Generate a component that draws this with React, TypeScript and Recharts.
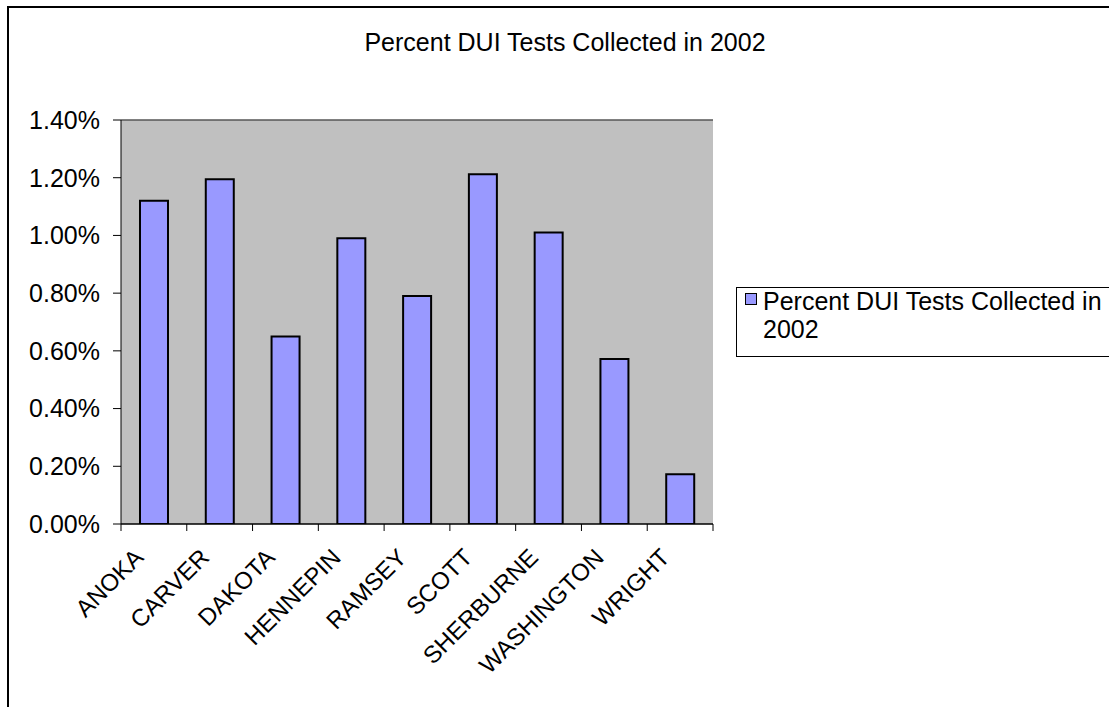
import React from 'react';
import { BarChart, Bar, XAxis, YAxis, CartesianGrid, ReferenceLine } from 'recharts';

const counties = ['ANOKA', 'CARVER', 'DAKOTA', 'HENNEPIN', 'RAMSEY', 'SCOTT', 'SHERBURNE', 'WASHINGTON', 'WRIGHT'];
const percentCollected = [0.0112, 0.01195, 0.0065, 0.0099, 0.0079, 0.01212, 0.0101, 0.00572, 0.00172];
const yTicks = [0, 0.002, 0.004, 0.006, 0.008, 0.01, 0.012, 0.014];
const chartTitle = 'Percent DUI Tests Collected in 2002';
const seriesName = 'Percent DUI Tests Collected in 2002';

const data = counties.map((county, i) => ({ county, value: percentCollected[i] }));

const FONT = '"Liberation Sans", Arial, sans-serif';
const W = 1109;
const H = 707;
const PLOT_LEFT = 121;
const PLOT_RIGHT = 713;
const PLOT_TOP = 120;
const PLOT_BOTTOM = 524;
const BAND = (PLOT_RIGHT - PLOT_LEFT) / counties.length;

const fmt = (v: number) => (v * 100).toFixed(2) + '%';

function XTick(props: any) {
  const { x, y, payload, index } = props;
  const left = x - BAND / 2;
  const tx = x - 9;
  const ty = y + 35;
  return (
    <g>
      <line x1={left} y1={y} x2={left} y2={y + 7} stroke="#000" strokeWidth={1} />
      {index === counties.length - 1 && (
        <line x1={x + BAND / 2} y1={y} x2={x + BAND / 2} y2={y + 7} stroke="#000" strokeWidth={1} />
      )}
      <text
        x={tx}
        y={ty}
        transform={`rotate(-45 ${tx} ${ty})`}
        textAnchor="end"
        fontSize={24}
        fontFamily={FONT}
        fill="#000"
      >
        {payload.value}
      </text>
    </g>
  );
}

export default function App() {
  return (
    <div style={{ position: 'relative', width: W, height: H, background: '#fff', overflow: 'hidden' }}>
      <style>{'body{margin:0;overflow:hidden}'}</style>
      <div
        style={{
          position: 'absolute',
          left: 7,
          top: 6,
          width: W - 7,
          height: H - 6,
          borderLeft: '2px solid #000',
          borderTop: '2px solid #000',
          boxSizing: 'border-box',
        }}
      />
      <div
        style={{
          position: 'absolute',
          left: 0,
          top: 28,
          width: 1130,
          textAlign: 'center',
          fontFamily: FONT,
          fontSize: 25,
          lineHeight: '29px',
          color: '#000',
        }}
      >
        {chartTitle}
      </div>
      <div style={{ position: 'absolute', left: 0, top: 0 }}>
        <BarChart
          width={W}
          height={H}
          data={data}
          margin={{ top: PLOT_TOP, right: W - PLOT_RIGHT, bottom: 0, left: 0 }}
          barSize={28}
        >
          <CartesianGrid
            vertical={false}
            stroke="#000"
            strokeWidth={1}
            fill="#C0C0C0"
            fillOpacity={1}
          />
          <XAxis
            dataKey="county"
            interval={0}
            height={H - PLOT_BOTTOM}
            tickLine={false}
            tickSize={0}
            tickMargin={0}
            axisLine={{ stroke: '#000', strokeWidth: 1 }}
            tick={<XTick />}
          />
          <YAxis
            yAxisId="left"
            width={PLOT_LEFT}
            domain={[0, 0.014]}
            ticks={yTicks}
            tickFormatter={fmt}
            tickSize={8}
            tickMargin={13}
            tickLine={{ stroke: '#000' }}
            axisLine={{ stroke: '#000', strokeWidth: 1 }}
            tick={{ fontSize: 25, fontFamily: FONT, fill: '#000' }}
            allowDataOverflow
          />
          <YAxis
            yAxisId="right"
            orientation="right"
            width={0}
            domain={[0, 0.014]}
            tick={false}
            tickLine={false}
            axisLine={{ stroke: '#808080', strokeWidth: 1 }}
          />
          <ReferenceLine yAxisId="left" y={0.014} stroke="#808080" strokeWidth={1} />
          <Bar
            yAxisId="left"
            dataKey="value"
            name={seriesName}
            fill="#9999FF"
            stroke="#000"
            strokeWidth={2}
            isAnimationActive={false}
          />
        </BarChart>
      </div>
      <div
        style={{
          position: 'absolute',
          left: 736,
          top: 287,
          width: 400,
          height: 70,
          border: '1px solid #000',
          boxSizing: 'border-box',
          background: '#fff',
        }}
      >
        <div
          style={{
            position: 'absolute',
            left: 8,
            top: 5,
            width: 12,
            height: 12,
            background: '#9999FF',
            border: '1px solid #000',
            boxSizing: 'border-box',
          }}
        />
        <div
          style={{
            position: 'absolute',
            left: 26,
            top: -1,
            width: 346,
            fontFamily: FONT,
            fontSize: 25,
            lineHeight: '28.4px',
            color: '#000',
          }}
        >
          {seriesName}
        </div>
      </div>
    </div>
  );
}
